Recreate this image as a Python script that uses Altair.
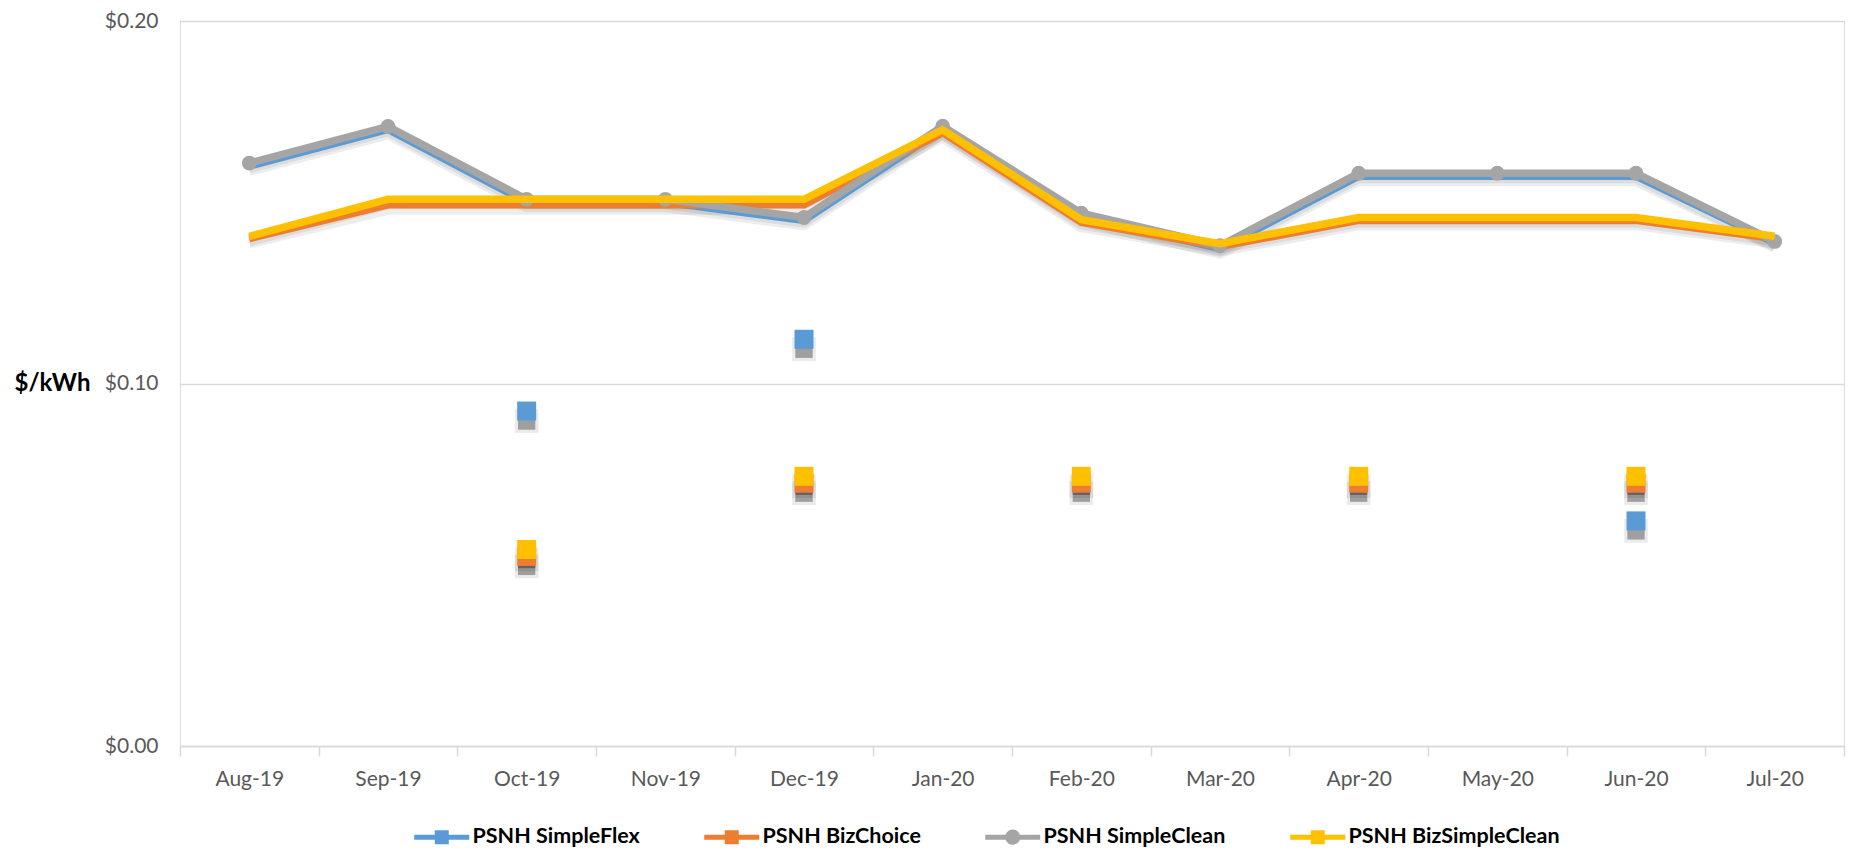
import altair as alt
import pandas as pd

months = ["Aug-19", "Sep-19", "Oct-19", "Nov-19", "Dec-19", "Jan-20",
          "Feb-20", "Mar-20", "Apr-20", "May-20", "Jun-20", "Jul-20"]
series_names = ["PSNH SimpleFlex", "PSNH BizChoice", "PSNH SimpleClean", "PSNH BizSimpleClean"]
series_colors = ["#5B9BD5", "#ED7D31", "#A5A5A5", "#FFC000"]

simpleflex = [0.1600, 0.1701, 0.1500, 0.1500, 0.1450, 0.1702, 0.1460, 0.1372, 0.1572, 0.1572, 0.1572, 0.1388]
bizchoice = [0.1400, 0.1493, 0.1493, 0.1493, 0.1493, 0.1692, 0.1445, 0.1378, 0.1450, 0.1450, 0.1450, 0.1400]
simpleclean = [0.1608, 0.1709, 0.1508, 0.1508, 0.1458, 0.1710, 0.1470, 0.1380, 0.1580, 0.1580, 0.1580, 0.1392]
bizsimpleclean = [0.1406, 0.1508, 0.1508, 0.1508, 0.1508, 0.1700, 0.1452, 0.1386, 0.1458, 0.1458, 0.1458, 0.1406]

# stray square markers
sq_flex_months = ["Oct-19", "Dec-19", "Jun-20"]
sq_flex_values = [0.0924, 0.1122, 0.0621]
sq_biz_months = ["Oct-19", "Dec-19", "Feb-20", "Apr-20", "Jun-20"]
sq_biz_values = [0.0523, 0.0725, 0.0725, 0.0725, 0.0725]
sq_bizclean_months = ["Oct-19", "Dec-19", "Feb-20", "Apr-20", "Jun-20"]
sq_bizclean_values = [0.0542, 0.0744, 0.0744, 0.0744, 0.0744]

line_rows = []
for name, vals in zip(series_names, [simpleflex, bizchoice, simpleclean, bizsimpleclean]):
    for m, v in zip(months, vals):
        line_rows.append({"month": m, "series": name, "value": v})
lines_df = pd.DataFrame(line_rows)

sq_rows = []
for name, ms, vals in [("PSNH SimpleFlex", sq_flex_months, sq_flex_values),
                       ("PSNH BizChoice", sq_biz_months, sq_biz_values),
                       ("PSNH BizSimpleClean", sq_bizclean_months, sq_bizclean_values)]:
    for m, v in zip(ms, vals):
        sq_rows.append({"month": m, "series": name, "value": v})
sq_df = pd.DataFrame(sq_rows)

FONT = "Lato"
color_of = dict(zip(series_names, series_colors))
color_scale = alt.Scale(domain=series_names, range=series_colors)

# legend glyphs: a short thick line with a marker in the middle
square_path = "M-2.75,-0.25H-0.7V-0.7H0.7V-0.25H2.75V0.25H0.7V0.7H-0.7V0.25H-2.75Z"
circle_path = ("M-2.75,-0.25H-0.71A0.75,0.75 0 0 1 0.71,-0.25H2.75V0.25H0.71"
               "A0.75,0.75 0 0 1 -0.71,0.25H-2.75Z")
shape_scale = alt.Scale(domain=series_names,
                        range=[square_path, square_path, circle_path, square_path])

x_enc = alt.X("month:N", sort=months,
              scale=alt.Scale(type="band", domain=months, paddingInner=0, paddingOuter=0),
              bandPosition=0.5,
              axis=alt.Axis(title=None, tickBand="extent", labelFont=FONT, labelFontSize=21,
                            labelColor="#595959", domainColor="#d9d9d9", domainWidth=1.5,
                            tickColor="#d9d9d9", tickWidth=1.5, tickSize=10, grid=False,
                            labelPadding=12, labelAngle=0))
y_enc = alt.Y("value:Q", scale=alt.Scale(domain=[0, 0.2], nice=False, zero=True),
              axis=alt.Axis(values=[0, 0.1, 0.2], format="$.2f", domain=False, ticks=False,
                            grid=True, gridColor="#d9d9d9", gridWidth=1.5,
                            labelFont=FONT, labelFontSize=21, labelColor="#595959",
                            labelPadding=22, title="$/kWh", titleAngle=0, titleX=-166,
                            titleY=362, titleAlign="left", titleBaseline="middle",
                            titleFont=FONT, titleFontSize=24, titleFontWeight="bold",
                            titleColor="#000000"))
y_plain = alt.Y("value:Q", scale=alt.Scale(domain=[0, 0.2], nice=False, zero=True))

legend = alt.Legend(
    orient="none", legendX=251, legendY=805, direction="horizontal", title=None,
    symbolSize=400, symbolStrokeWidth=0, symbolOpacity=1,
    labelFont=FONT, labelFontWeight="bold", labelFontSize=21.5, labelColor="#000000",
    labelOffset=20, labelLimit=600, columnPadding=64)

base_lines = alt.Chart(lines_df)
layers = []
# line shadows
layers.append(base_lines.mark_line(strokeWidth=10, color="#000000", opacity=0.07, yOffset=5,
                                   strokeJoin="round").encode(
    x=x_enc, y=y_enc, detail="series:N"))
for name in series_names:
    layers.append(base_lines.transform_filter(alt.datum.series == name).mark_line(
        strokeWidth=7.5, strokeJoin="miter", color=color_of[name]).encode(
        x=x_enc, y=y_plain))
    if name == "PSNH SimpleClean":
        layers.append(base_lines.transform_filter(alt.datum.series == name).mark_circle(
            size=220, opacity=1, color=color_of[name]).encode(x=x_enc, y=y_plain))

base_sq = alt.Chart(sq_df)
layers.append(base_sq.mark_square(size=560, color="#000000", opacity=0.08, yOffset=10).encode(
    x=x_enc, y=y_plain))
layers.append(base_sq.mark_square(size=300, color="#000000", opacity=0.32, yOffset=10).encode(
    x=x_enc, y=y_plain))

for name in ["PSNH SimpleFlex", "PSNH BizChoice", "PSNH BizSimpleClean"]:
    layers.append(base_sq.transform_filter(alt.datum.series == name).mark_square(
        size=361, opacity=1, color=color_of[name]).encode(x=x_enc, y=y_plain))

# legend-only layer (invisible points)
layers.append(base_lines.mark_point(filled=True, size=0, opacity=1).encode(
    x=x_enc, y=y_plain,
    color=alt.Color("series:N", scale=color_scale, legend=legend),
    shape=alt.Shape("series:N", scale=shape_scale, legend=legend)))

chart = alt.layer(*layers).properties(
    width=1664, height=725,
    padding={"left": 172, "top": 13, "right": 2, "bottom": 105},
    autosize=alt.AutoSizeParams(type="none"),
).configure_view(stroke=None).configure(background="white")

chart.save("out.html", embed_options={"renderer": "svg", "actions": False})
